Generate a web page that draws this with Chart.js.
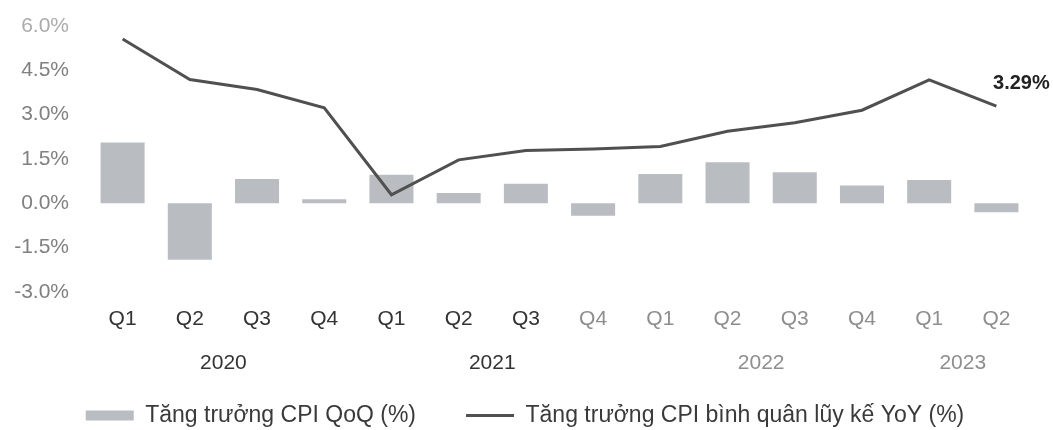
<!DOCTYPE html>
<html>
<head>
<meta charset="utf-8">
<script src="https://cdn.jsdelivr.net/npm/chart.js@4.4.0/dist/chart.umd.min.js"></script>
<style>
html,body{margin:0;padding:0;background:#fff;}
#wrap{width:1053px;height:430px;}
</style>
</head>
<body>
<div id="wrap"><canvas id="c" width="1053" height="430"></canvas></div>
<script>
// ---- data ----
const quarters = ['Q1','Q2','Q3','Q4','Q1','Q2','Q3','Q4','Q1','Q2','Q3','Q4','Q1','Q2'];
const years    = [2020,2020,2020,2020,2021,2021,2021,2021,2022,2022,2022,2022,2023,2023];
const cpiQoQ   = [2.06,-1.91,0.82,0.14,0.97,0.35,0.66,-0.42,0.99,1.39,1.05,0.60,0.79,-0.30];
const cpiYoY   = [5.56,4.19,3.85,3.23,0.29,1.47,1.79,1.84,1.92,2.44,2.73,3.15,4.18,3.29];
const yTicks   = [-3.0,-1.5,0.0,1.5,3.0,4.5,6.0];
const seriesNames = ['Tăng trưởng CPI QoQ (%)','Tăng trưởng CPI bình quân lũy kế YoY (%)'];

// year groups (centre index of each year's quarters)
const yearGroups = [];
years.forEach((y,i)=>{
  let g = yearGroups.find(o=>o.label===String(y));
  if(!g){ g={label:String(y), idx:[]}; yearGroups.push(g); }
  g.idx.push(i);
});
yearGroups.forEach(g=>{ g.center = g.idx.reduce((a,b)=>a+b,0)/g.idx.length; });

const FONT = '"Liberation Sans", Arial, sans-serif';
const DARK = '#333333';
const FADED = '#8e8e8e';
const LEGEND_SHIFT = 28;
const LEGEND_DX = 10;

const legendShift = {
  id:'legendShift',
  afterInit(chart){
    const lg = chart.legend;
    if(!lg) return;
    const orig = lg.draw.bind(lg);
    lg.draw = function(area){
      const t = this.top, b = this.bottom, h = this.height, l = this.left, r = this.right;
      this.top = t - LEGEND_SHIFT;
      this.bottom = chart.height;
      this.height = this.bottom - this.top;
      this.left = l + LEGEND_DX; this.right = r + LEGEND_DX;
      orig(area);
      this.top = t; this.bottom = b; this.height = h; this.left = l; this.right = r;
    };
  }
};

const lastLabel = {
  id:'lastLabel',
  afterDatasetsDraw(chart){
    const meta = chart.getDatasetMeta(1);
    const pt = meta.data[meta.data.length-1];
    const v = cpiYoY[cpiYoY.length-1];
    const c = chart.ctx;
    c.save();
    c.font = 'bold 20px ' + FONT;
    c.fillStyle = '#222';
    c.textAlign = 'center';
    c.textBaseline = 'middle';
    c.fillText(v.toFixed(2)+'%', pt.x+25, pt.y-23);
    c.restore();
  }
};

function noVPad(s){ s.paddingTop = 0; s.paddingBottom = 0; }

new Chart(document.getElementById('c'), {
  data:{
    labels: quarters,
    datasets:[
      {
        type:'bar',
        label: seriesNames[0],
        data: cpiQoQ,
        backgroundColor:'#b9bdc2',
        borderWidth:0,
        barPercentage:0.655,
        categoryPercentage:1.0,
        pointStyle:'rect',
        order:1,
        xAxisID:'x', yAxisID:'y'
      },
      {
        type:'line',
        label: seriesNames[1],
        data: cpiYoY,
        borderColor:'#505050',
        backgroundColor:'#505050',
        borderWidth:3,
        pointRadius:0,
        pointHoverRadius:0,
        tension:0,
        fill:false,
        pointStyle:'line',
        order:0,
        xAxisID:'x', yAxisID:'y'
      }
    ]
  },
  options:{
    responsive:false,
    animation:false,
    layout:{ padding:{ top:26, right:23, bottom:0, left:0 } },
    plugins:{
      tooltip:{ enabled:false },
      legend:{
        position:'bottom',
        maxHeight:48,
        labels:{
          usePointStyle:true,
          pointStyleWidth:48,
          boxHeight:10,
          padding:50,
          color:'#3a3a3a',
          font:{ size:23, family:FONT },
          sort:(a,b)=> a.datasetIndex - b.datasetIndex
        }
      }
    },
    scales:{
      x:{
        type:'category',
        position:'bottom',
        weight:0,
        offset:true,
        grid:{ display:false, drawTicks:false },
        border:{ display:false },
        ticks:{
          autoSkip:false, maxRotation:0, padding:15,
          font:{ size:21, family:FONT },
          color:(ctx)=> ctx.index < 7 ? DARK : FADED
        },
        afterFit:(s)=>{ s.height = 48; noVPad(s); }
      },
      x2:{
        type:'linear',
        position:'bottom',
        weight:1,
        min:-0.5,
        max:quarters.length-0.5,
        offset:false,
        grid:{ display:false, drawTicks:false },
        border:{ display:false },
        afterBuildTicks:(s)=>{ s.ticks = yearGroups.map(g=>({value:g.center})); },
        ticks:{
          autoSkip:false, maxRotation:0, padding:11,
          font:{ size:21, family:FONT },
          color:(ctx)=> ctx.index < 2 ? DARK : FADED,
          callback:(v)=>{ const g = yearGroups.find(o=>Math.abs(o.center-v)<1e-6); return g ? g.label : ''; }
        },
        afterFit:(s)=>{ s.height = 42; noVPad(s); }
      },
      y:{
        type:'linear',
        min:yTicks[0],
        max:yTicks[yTicks.length-1],
        grid:{ display:false, drawTicks:false },
        border:{ display:false },
        afterBuildTicks:(s)=>{ s.ticks = yTicks.map(v=>({value:v})); },
        ticks:{
          padding:20,
          font:{ size:21, family:FONT },
          color:(ctx)=> ctx.tick && ctx.tick.value === 6 ? '#ababab' : '#808080',
          callback:(v)=> Number(v).toFixed(1)+'%'
        },
        afterFit:(s)=>{ s.width = 89; noVPad(s); }
      }
    }
  },
  plugins:[legendShift, lastLabel]
});
</script>
</body>
</html>
